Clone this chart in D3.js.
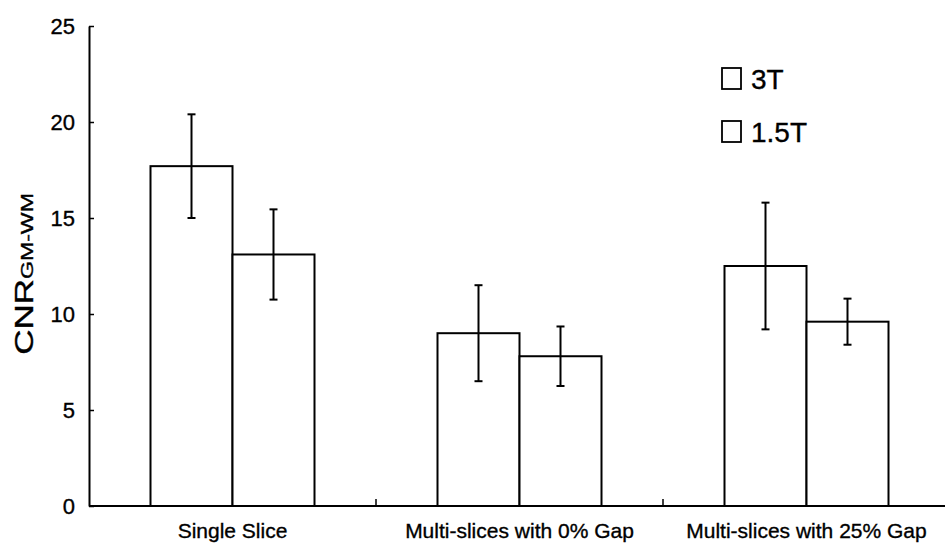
<!DOCTYPE html>
<html>
<head>
<meta charset="utf-8">
<script src="https://cdn.jsdelivr.net/npm/d3@7"></script>
<style>
  body { margin: 0; background: #fff; }
  svg { display: block; font-family: Arial, "Liberation Sans", sans-serif; }
  text { stroke: #000; stroke-width: 0.35px; }
</style>
</head>
<body>
<div id="chart"></div>
<script>
// Data
const categories = ["Single Slice", "Multi-slices with 0% Gap", "Multi-slices with 25% Gap"];
const series = ["3T", "1.5T"];
const values3T = [17.7, 9.0, 12.5];
const errors3T = [2.7, 2.5, 3.3];
const values15T = [13.1, 7.8, 9.6];
const errors15T = [2.35, 1.55, 1.2];
const yTicks = [0, 5, 10, 15, 20, 25];

const width = 945, height = 544;

const svg = d3.select("#chart")
    .append("svg")
    .attr("width", width)
    .attr("height", height);

// Scales
const x = d3.scaleBand()
    .domain(categories)
    .range([89, 950])
    .paddingInner(0)
    .paddingOuter(0);

const xSub = d3.scaleBand()
    .domain(series)
    .range([0, x.bandwidth()])
    .paddingInner(0)
    .paddingOuter(0.75);

const y = d3.scaleLinear()
    .domain([0, 25])
    .range([506, 26]);

// Build rows for the bars
const rows = [];
categories.forEach((c, i) => {
    rows.push({ cat: c, s: "3T", v: values3T[i], e: errors3T[i] });
    rows.push({ cat: c, s: "1.5T", v: values15T[i], e: errors15T[i] });
});

// Bars
svg.append("g")
    .selectAll("rect")
    .data(rows)
    .enter()
    .append("rect")
    .attr("x", d => x(d.cat) + xSub(d.s))
    .attr("y", d => y(d.v))
    .attr("width", xSub.bandwidth())
    .attr("height", d => y(0) - y(d.v))
    .attr("fill", "#fff")
    .attr("stroke", "#000")
    .attr("stroke-width", 2);

// Error bars
const eb = svg.append("g")
    .attr("stroke", "#000")
    .attr("stroke-width", 2);

const cx = d => x(d.cat) + xSub(d.s) + xSub.bandwidth() / 2;

eb.selectAll(".stem")
    .data(rows)
    .enter()
    .append("line")
    .attr("x1", cx).attr("x2", cx)
    .attr("y1", d => y(d.v + d.e))
    .attr("y2", d => y(d.v - d.e));

eb.selectAll(".capTop")
    .data(rows)
    .enter()
    .append("line")
    .attr("x1", d => cx(d) - 4).attr("x2", d => cx(d) + 4)
    .attr("y1", d => y(d.v + d.e)).attr("y2", d => y(d.v + d.e));

eb.selectAll(".capBot")
    .data(rows)
    .enter()
    .append("line")
    .attr("x1", d => cx(d) - 4).attr("x2", d => cx(d) + 4)
    .attr("y1", d => y(d.v - d.e)).attr("y2", d => y(d.v - d.e));

// Y axis, ticks pointing inward
const yAxis = svg.append("g")
    .attr("transform", "translate(89,0)")
    .call(d3.axisLeft(y).tickValues(yTicks).tickSizeInner(-5).tickSizeOuter(0).tickPadding(14));
yAxis.select(".domain").attr("stroke-width", 2);
yAxis.selectAll(".tick line").attr("stroke-width", 1.5);
yAxis.selectAll(".tick text")
    .attr("font-size", 22)
    .attr("font-family", "Arial, 'Liberation Sans', sans-serif")
    .attr("fill", "#000");

// X axis line with separator ticks
svg.append("line")
    .attr("x1", 89).attr("x2", width)
    .attr("y1", y(0)).attr("y2", y(0))
    .attr("stroke", "#000")
    .attr("stroke-width", 2);

svg.append("g")
    .selectAll("line")
    .data(categories.slice(1))
    .enter()
    .append("line")
    .attr("x1", d => x(d)).attr("x2", d => x(d))
    .attr("y1", y(0)).attr("y2", y(0) - 7)
    .attr("stroke", "#000")
    .attr("stroke-width", 1.5);

svg.append("g")
    .selectAll("text")
    .data(categories)
    .enter()
    .append("text")
    .attr("x", d => x(d) + x.bandwidth() / 2)
    .attr("y", 538)
    .attr("text-anchor", "middle")
    .attr("font-size", 21)
    .text(d => d);

// Y label
const yl = svg.append("text")
    .attr("transform", "translate(33,274) rotate(-90) scale(1.4,1)")
    .attr("text-anchor", "middle");
yl.append("tspan").attr("font-size", 25).text("CNR");
yl.append("tspan").attr("font-size", 16.5).text("GM-WM");

// Legend
const legend = svg.append("g")
    .selectAll("g")
    .data(series)
    .enter()
    .append("g")
    .attr("transform", (d, i) => `translate(722,${68 + i * 53})`);

legend.append("rect")
    .attr("width", 19)
    .attr("height", 21)
    .attr("fill", "#fff")
    .attr("stroke", "#000")
    .attr("stroke-width", 1.8);

legend.append("text")
    .attr("x", 29)
    .attr("y", 21)
    .attr("font-size", 28)
    .text(d => d);
</script>
</body>
</html>
